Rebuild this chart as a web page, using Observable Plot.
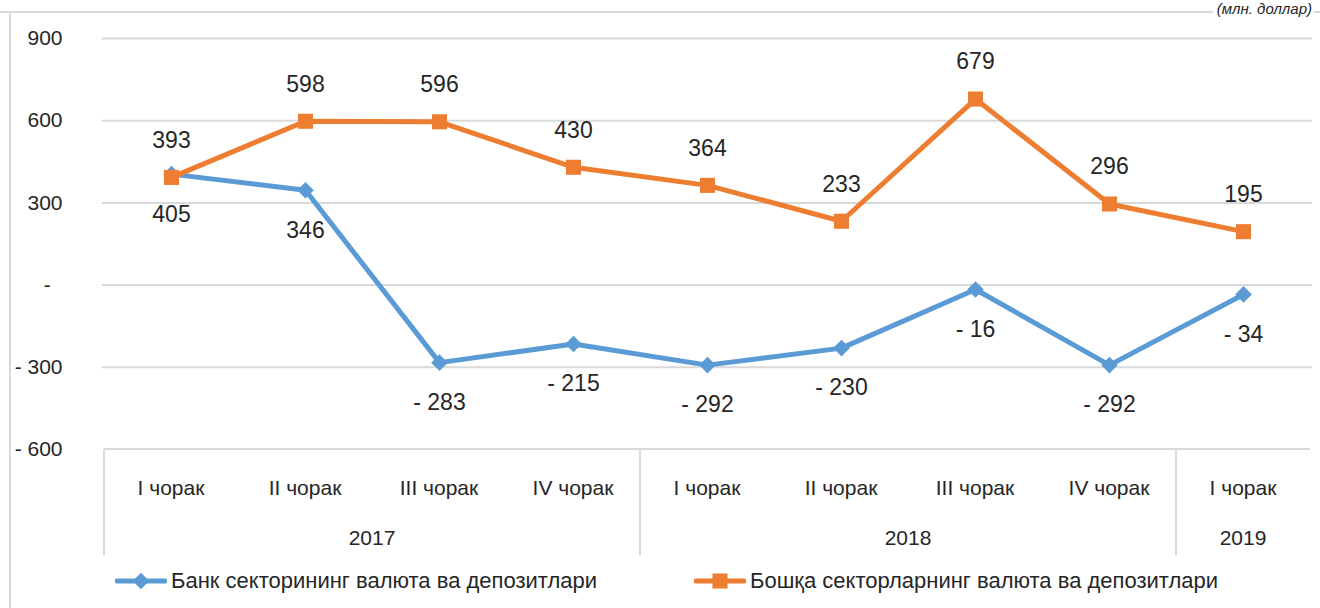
<!DOCTYPE html>
<html><head><meta charset="utf-8">
<script src="https://cdn.jsdelivr.net/npm/d3@7"></script>
<script src="https://cdn.jsdelivr.net/npm/@observablehq/plot@0.6"></script>
<style>
body{margin:0;background:#fff;width:1320px;height:608px;overflow:hidden;position:relative;
 font-family:"Liberation Sans",sans-serif;color:#262626;}
#frameTop{position:absolute;left:0;top:11px;width:1320px;height:2px;background:#d9d9d9;}
#frameLeft{position:absolute;left:9px;top:11px;width:2px;height:597px;background:#d9d9d9;}
#title{position:absolute;right:6px;top:1px;font-size:15px;font-style:italic;white-space:nowrap;line-height:1.1;color:#262626;background:#fff;padding:0 2px 0 4px;}
#chart{position:absolute;left:0;top:0;}
.leg{position:absolute;top:568px;display:flex;align-items:center;font-size:22px;white-space:nowrap;color:#262626;}
.leg svg{margin-right:4px;}
</style></head><body>
<div id="frameTop"></div><div id="frameLeft"></div>
<div id="chart"></div>
<div id="title">(млн. доллар)</div>
<div id="legend"></div>
<script>
const quarters = ["I чорак","II чорак","III чорак","IV чорак","I чорак","II чорак","III чорак","IV чорак","I чорак"];
const years = ["2017","2017","2017","2017","2018","2018","2018","2018","2019"];
const bankSector = [405,346,-283,-215,-292,-230,-16,-292,-34];
const otherSectors = [393,598,596,430,364,233,679,296,195];
const seriesNames = ["Банк секторининг валюта ва депозитлари","Бошқа секторларнинг валюта ва депозитлари"];
const seriesColors = ["#5b9bd5","#ed7d31"];
const yTicks = [900,600,300,0,-300,-600];

const keys = quarters.map((q,i)=>years[i]+"|"+i);
const bankRows = keys.map((k,i)=>({key:k, value:bankSector[i]}));
const otherRows = keys.map((k,i)=>({key:k, value:otherSectors[i]}));
const fmt = v => v < 0 ? "- " + Math.abs(v) : String(v);
const tickFmt = v => v === 0 ? "-\u00a0\u00a0" : fmt(v);
const FONT = '"Liberation Sans",sans-serif';

function categoryAxis(index, scales, values, dims) {
  const x = scales.x;
  const xs = keys.map(k => x(k));
  const step = (xs[xs.length-1]-xs[0])/(xs.length-1);
  const top = dims.height - dims.marginBottom;
  const bottom = top + 106;
  const g = d3.create("svg:g").attr("font-family", FONT).attr("fill", "#262626");
  const left = xs[0]-step/2, right = xs[xs.length-1]+step/2;
  g.append("line").attr("x1", left).attr("x2", right).attr("y1", top).attr("y2", top)
    .attr("stroke", "#d9d9d9").attr("stroke-width", 2);
  g.selectAll("text.q").data(quarters).join("text")
    .attr("x", (d,i)=>xs[i]).attr("y", top+38).attr("text-anchor","middle")
    .attr("dominant-baseline","central").attr("font-size", 21).text(d=>d);
  const groups = d3.groups(years.map((y,i)=>({y,i})), d=>d.y);
  const bounds = [left];
  groups.forEach(([yr, arr]) => {
    const a = xs[arr[0].i]-step/2, b = xs[arr[arr.length-1].i]+step/2;
    bounds.push(b);
    g.append("text").attr("x",(a+b)/2).attr("y", top+88).attr("text-anchor","middle")
      .attr("dominant-baseline","central").attr("font-size", 21).text(yr);
  });
  bounds.slice(0, -1).forEach(b => {
    g.append("line").attr("x1", b).attr("x2", b).attr("y1", top).attr("y2", bottom)
      .attr("stroke", "#d9d9d9").attr("stroke-width", 2);
  });
  return g.node();
}

const plot = Plot.plot({
  width: 1320, height: 565,
  marginLeft: 102, marginRight: 8, marginTop: 38, marginBottom: 116,
  style: {fontFamily: FONT, fontSize: "21px", color: "#262626", background: "transparent"},
  x: {type: "point", domain: keys, padding: 0.5, axis: null},
  y: {domain: [-600, 900], ticks: yTicks, tickFormat: tickFmt, tickSize: 0, tickPadding: 40, label: null},
  marks: [
    Plot.ruleY(yTicks.filter(v => v > -600), {stroke: "#d9d9d9", strokeWidth: 2}),
    categoryAxis,
    Plot.line(bankRows, {x: "key", y: "value", stroke: seriesColors[0], strokeWidth: 5, strokeLinejoin: "round"}),
    Plot.line(otherRows, {x: "key", y: "value", stroke: seriesColors[1], strokeWidth: 5, strokeLinejoin: "round"}),
    Plot.dot(bankRows, {x: "key", y: "value", symbol: "diamond2", r: 7.5, fill: seriesColors[0], stroke: "none"}),
    Plot.dot(otherRows, {x: "key", y: "value", symbol: "square", r: 8.5, fill: seriesColors[1], stroke: "none"}),
    Plot.text(bankRows, {x: "key", y: "value", text: d => fmt(d.value), dy: 40, fill: "#262626", fontSize: 23}),
    Plot.text(otherRows, {x: "key", y: "value", text: d => fmt(d.value), dy: -37, fill: "#262626", fontSize: 23}),
    Plot.axisY({ticks: yTicks, tickFormat: tickFmt, tickSize: 0, tickPadding: 40, fontSize: 21, fill: "#262626", label: null})
  ]
});
document.getElementById("chart").appendChild(plot);

// legend
const legend = document.getElementById("legend");
const legLeft = [115, 694];
seriesNames.forEach((name, i) => {
  const item = document.createElement("div");
  item.className = "leg";
  item.style.left = legLeft[i] + "px";
  const sw = d3.create("svg").attr("width", 52).attr("height", 20);
  sw.append("line").attr("x1", 2).attr("x2", 50).attr("y1", 10).attr("y2", 10)
    .attr("stroke", seriesColors[i]).attr("stroke-width", 5).attr("stroke-linecap", "round");
  const sym = i === 0 ? d3.symbolDiamond2 : d3.symbolSquare;
  const size = i === 0 ? Math.PI*56 : Math.PI*8.5*8.5;
  sw.append("path").attr("transform", "translate(26,10)").attr("d", d3.symbol(sym, size)()).attr("fill", seriesColors[i]);
  item.appendChild(sw.node());
  const span = document.createElement("span");
  span.textContent = name;
  item.appendChild(span);
  legend.appendChild(item);
});
</script>
</body></html>
